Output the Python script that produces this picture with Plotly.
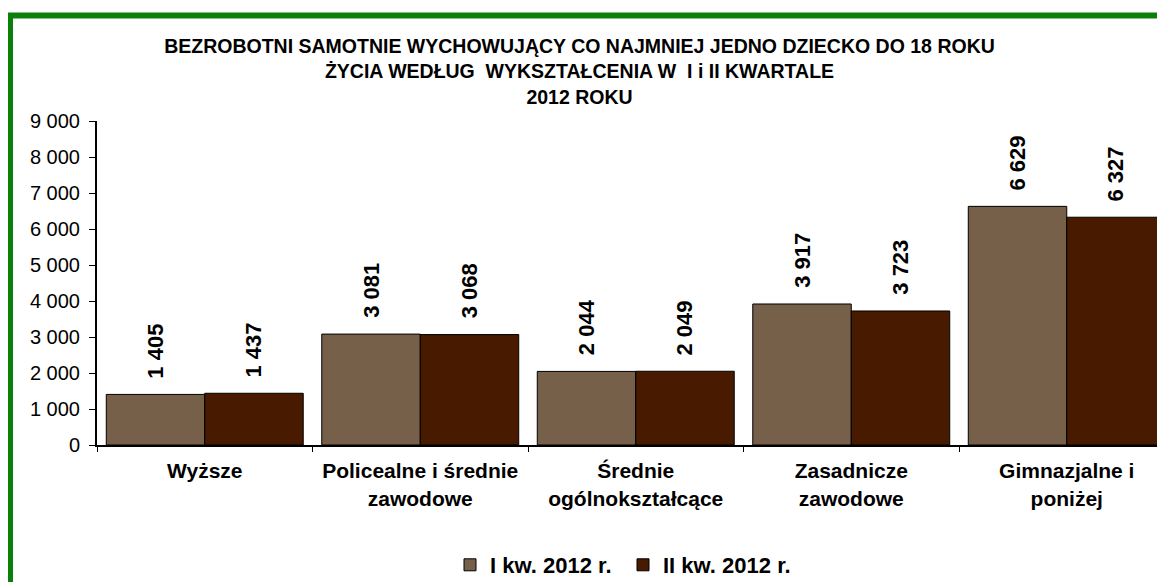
import plotly.graph_objects as go

categories = ["Wyższe", "Policealne i średnie<br>zawodowe", "Średnie<br>ogólnokształcące",
              "Zasadnicze<br>zawodowe", "Gimnazjalne i<br>poniżej"]
series_names = ["I kw. 2012 r.", "II kw. 2012 r."]
q1_values = [1405, 3081, 2044, 3917, 6629]
q2_values = [1437, 3068, 2049, 3723, 6327]
y_ticks = [0, 1000, 2000, 3000, 4000, 5000, 6000, 7000, 8000, 9000]
title_text = ("BEZROBOTNI SAMOTNIE WYCHOWUJĄCY CO NAJMNIEJ JEDNO DZIECKO DO 18 ROKU<br>"
              "ŻYCIA WEDŁUG  WYKSZTAŁCENIA W  I i II KWARTALE<br>2012 ROKU")

colors = ["#77604a", "#481a00"]
FONT = "Liberation Sans, Arial, sans-serif"

# the page body has an 8px margin; figure coordinates are page coordinates - 8
OFF = 8
W, H = 1165, 582
L, T = 97 - OFF, 121 - OFF
B = H - (445 - OFF)
R = 0
plot_w = W - L - R
plot_h = H - T - B
cat_w = 215.5

def fmt(v):
    return f"{v:,}".replace(",", " ")

fig = go.Figure()
for name, vals, col in zip(series_names, [q1_values, q2_values], colors):
    fig.add_trace(go.Bar(
        x=categories, y=vals, name=name,
        marker=dict(color=col, line=dict(color="black", width=1)),
    ))

annotations = []
for vals, shift in [(q1_values, -49), (q2_values, 49)]:
    for c, v in zip(categories, vals):
        annotations.append(dict(
            x=c, y=v, xref="x", yref="y", text=fmt(v), showarrow=False,
            textangle=-90, xanchor="center", yanchor="bottom",
            xshift=shift, yshift=14,
            font=dict(family=FONT, size=22, color="black", weight="bold"),
        ))

def px2x(p):  # page pixel -> paper x
    return (p - OFF - L) / plot_w

def px2y(p):  # page pixel -> paper y
    return (H - B - (p - OFF)) / plot_h

shapes = [dict(
    type="rect", xref="paper", yref="paper",
    x0=px2x(10), x1=px2x(1190), y0=px2y(610), y1=px2y(15.5),
    line=dict(color="#0a800a", width=6), fillcolor="rgba(0,0,0,0)", layer="above",
)]

fig.update_layout(
    width=W, height=H,
    margin=dict(l=L, r=R, t=T, b=B, pad=0),
    paper_bgcolor="white", plot_bgcolor="white",
    barmode="group", bargap=0.086, bargroupgap=0,
    separators=", ",
    font=dict(family=FONT, color="black"),
    title=dict(text=title_text, x=(579.5 - OFF) / W, xanchor="center",
               y=1 - (70 - OFF - 17) / H, yanchor="middle",
               font=dict(family=FONT, size=19.5, color="black", weight="bold")),
    xaxis=dict(
        range=[-0.5, -0.5 + plot_w / cat_w], showgrid=False,
        showline=True, linecolor="black", linewidth=2,
        ticks="outside", tickson="boundaries", ticklen=5, tickcolor="black", tickwidth=1,
        ticklabelstandoff=6,
        tickfont=dict(family=FONT, size=21, color="black", weight="bold"),
    ),
    yaxis=dict(
        range=[0, 9000], tickvals=y_ticks, tickformat=",d", showgrid=False,
        showline=True, linecolor="black", linewidth=2, zeroline=False,
        ticks="outside", ticklen=6, tickcolor="black", tickwidth=1,
        ticklabelstandoff=5,
        tickfont=dict(family=FONT, size=20, color="black"),
    ),
    legend=dict(
        orientation="h", x=px2x(450), xanchor="left",
        y=px2y(565), yanchor="middle",
        font=dict(family=FONT, size=22, color="black", weight="bold"),
        bgcolor="rgba(0,0,0,0)", entrywidth=128, entrywidthmode="pixels",
        itemclick=False,
    ),
    annotations=annotations,
    shapes=shapes,
)

fig.write_html("out.html")
